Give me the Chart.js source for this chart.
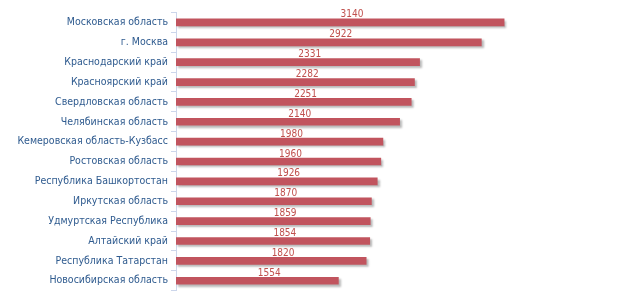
<!DOCTYPE html>
<html>
<head>
<meta charset="utf-8">
<script src="https://cdn.jsdelivr.net/npm/chart.js@4/dist/chart.umd.min.js"></script>
<style>
html,body{margin:0;padding:0;background:#fff;overflow:hidden;}
#wrap{position:relative;width:624px;height:300px;}
</style>
</head>
<body>
<div id="wrap"><canvas id="c" width="624" height="300"></canvas></div>
<script>
const categories = [
  "Московская область","г. Москва","Краснодарский край","Красноярский край",
  "Свердловская область","Челябинская область","Кемеровская область-Кузбасс",
  "Ростовская область","Республика Башкортостан","Иркутская область",
  "Удмуртская Республика","Алтайский край","Республика Татарстан","Новосибирская область"
];
const values = [3140,2922,2331,2282,2251,2140,1980,1960,1926,1870,1859,1854,1820,1554];

const FONT = '"DejaVu Sans Condensed", "DejaVu Sans", sans-serif';

const shadowPlugin = {
  id: 'shadow',
  beforeDatasetDraw(chart) {
    const ctx = chart.ctx;
    ctx.save();
    ctx.shadowColor = 'rgba(0,0,0,0.28)';
    ctx.shadowOffsetX = 2;
    ctx.shadowOffsetY = 2;
    ctx.shadowBlur = 2;
  },
  afterDatasetDraw(chart) {
    chart.ctx.restore();
  }
};

const labelPlugin = {
  id: 'valLabels',
  afterDatasetsDraw(chart) {
    const ctx = chart.ctx;
    const meta = chart.getDatasetMeta(0);
    ctx.save();
    ctx.font = '10px ' + FONT;
    ctx.fillStyle = '#c0504d';
    ctx.textAlign = 'center';
    ctx.textBaseline = 'alphabetic';
    meta.data.forEach((bar, i) => {
      const cx = (bar.x + bar.base) / 2 + 12;
      ctx.fillText(String(values[i]), cx, bar.y - 5);
    });
    ctx.restore();
  }
};

new Chart(document.getElementById('c'), {
  type: 'bar',
  data: {
    labels: categories,
    datasets: [{
      data: values,
      backgroundColor: '#c1545e',
      borderWidth: 0,
      barThickness: 7
    }]
  },
  options: {
    indexAxis: 'y',
    responsive: false,
    animation: false,
    layout: { padding: { top: 12.5, bottom: 1.5, left: 0, right: 30 } },
    plugins: { legend: { display: false }, tooltip: { enabled: false } },
    scales: {
      x: { display: false, min: 0, max: 4000 },
      y: {
        afterFit(s) { s.width = 176; },
        grid: { display: true, drawOnChartArea: false, tickLength: 5, color: '#ccd6eb', offset: true },
        border: { display: true, color: '#ccd6eb' },
        ticks: {
          color: '#2f5b8f',
          padding: 3,
          font: { family: FONT, size: 10.5 }
        }
      }
    }
  },
  plugins: [shadowPlugin, labelPlugin]
});
</script>
</body>
</html>
